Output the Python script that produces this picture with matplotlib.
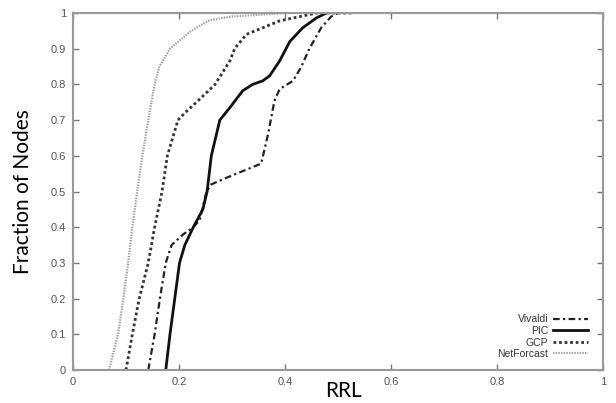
import matplotlib
matplotlib.use("Agg")
import matplotlib.pyplot as plt
import numpy as np

# ---- data ----
frac_net = [0, 0.1, 0.2, 0.3, 0.4, 0.5, 0.6, 0.7, 0.8, 0.85, 0.9, 0.95, 0.98, 0.99, 1.0, 1.0]
rrl_net = [0.068, 0.085, 0.095, 0.104, 0.112, 0.121, 0.131, 0.142, 0.154, 0.163, 0.183, 0.223, 0.258, 0.30, 0.40, 0.45]

frac_gcp = [0, 0.1, 0.2, 0.3, 0.4, 0.5, 0.6, 0.7, 0.72, 0.75, 0.8, 0.866, 0.9, 0.94, 0.978, 1.0, 1.0]
rrl_gcp = [0.10, 0.112, 0.125, 0.142, 0.154, 0.168, 0.178, 0.198, 0.211, 0.233, 0.268, 0.296, 0.305, 0.327, 0.39, 0.46, 0.53]

frac_pic = [0, 0.1, 0.2, 0.3, 0.35, 0.4, 0.45, 0.5, 0.6, 0.7, 0.735, 0.782, 0.80, 0.81, 0.824, 0.866, 0.92, 0.958, 0.986, 1.0]
rrl_pic = [0.175, 0.183, 0.192, 0.201, 0.211, 0.227, 0.245, 0.253, 0.261, 0.277, 0.296, 0.32, 0.339, 0.358, 0.371, 0.39, 0.409, 0.433, 0.459, 0.478]

frac_viv = [0, 0.1, 0.2, 0.3, 0.35, 0.38, 0.4, 0.42, 0.5, 0.52, 0.545, 0.578, 0.66, 0.754, 0.787, 0.81, 0.847, 0.90, 0.958, 0.99, 1.0]
rrl_viv = [0.142, 0.154, 0.164, 0.175, 0.186, 0.208, 0.227, 0.239, 0.252, 0.261, 0.30, 0.355, 0.368, 0.38, 0.39, 0.415, 0.43, 0.446, 0.468, 0.487, 0.50]

x_ticks = [0, 0.2, 0.4, 0.6, 0.8, 1]
x_labels = ["0", "0.2", "0.4", "0.6", "0.8", "1"]
y_ticks = [0, 0.1, 0.2, 0.3, 0.4, 0.5, 0.6, 0.7, 0.8, 0.9, 1]
y_labels = ["0", "0.1", "0.2", "0.3", "0.4", "0.5", "0.6", "0.7", "0.8", "0.9", "1"]

fig = plt.figure(figsize=(6.16, 4.03), dpi=100)
ax = fig.add_axes([73/616, 33/403, 530/616, 357/403])

ax.plot(rrl_viv, frac_viv, color="#222222", lw=1.6, dashes=(3, 1.5, 1, 1.5), label="Vivaldi")
ax.plot(rrl_pic, frac_pic, color="#111111", lw=2.0, label="PIC")
ax.plot(rrl_gcp, frac_gcp, color="#333333", lw=2.0, dashes=(1, 1), label="GCP")
ax.plot(rrl_net, frac_net, color="#9a9a9a", lw=1.6, dashes=(0.6, 0.6), label="NetForcast")

ax.set_xlim(0, 1)
ax.set_ylim(0, 1)
ax.set_xticks(x_ticks)
ax.set_xticklabels(x_labels)
ax.set_yticks(y_ticks)
ax.set_yticklabels(y_labels)
ax.tick_params(direction="in", length=4, width=1, color="#777777", top=True, right=True,
               labelsize=8, labelcolor="#555555", pad=5)
for lab in ax.get_xticklabels() + ax.get_yticklabels():
    lab.set_family("Liberation Sans")
for s in ax.spines.values():
    s.set_color("#999999")
    s.set_linewidth(1.5)

ax.set_xlabel("RRL", fontsize=15, family="Lato")
ax.xaxis.set_label_coords(0.51, -0.03)
ax.set_ylabel("Fraction of Nodes", fontsize=15, family="Lato")
ax.yaxis.set_label_coords(-0.075, 0.5)

leg = ax.legend(loc="lower right", bbox_to_anchor=(0.985, 0.01), frameon=False, markerfirst=False,
                prop={"family": "Liberation Sans", "size": 7.5}, labelspacing=0.15,
                handlelength=3.3, handletextpad=0.5, borderpad=0.2)
for t in leg.get_texts():
    t.set_color("#333333")

fig.savefig("out.png", dpi=100)
